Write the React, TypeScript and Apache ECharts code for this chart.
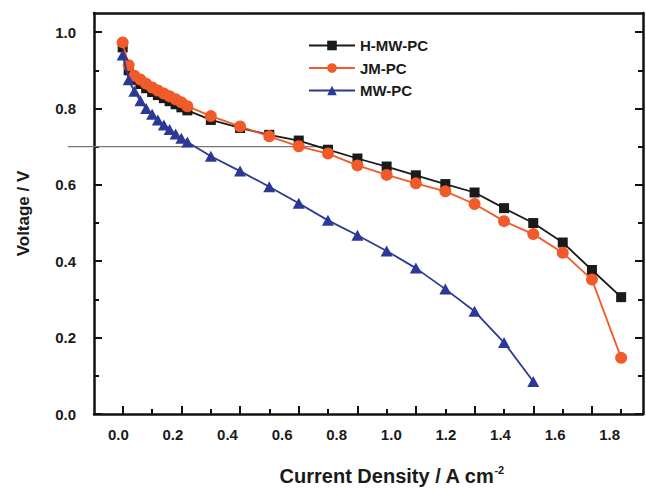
import React, { useEffect, useRef } from "react";
import * as echarts from "echarts";

// Current density (A cm^-2), read against the labelled axis
const xHMW = [0.016, 0.038, 0.059, 0.081, 0.102, 0.124, 0.145, 0.167, 0.188, 0.210, 0.231, 0.253, 0.339, 0.446, 0.553, 0.661, 0.768, 0.876, 0.983, 1.090, 1.198, 1.305, 1.413, 1.520, 1.628, 1.735, 1.842];
const yHMW = [0.960, 0.900, 0.875, 0.864, 0.853, 0.843, 0.835, 0.827, 0.819, 0.811, 0.803, 0.795, 0.770, 0.749, 0.731, 0.716, 0.692, 0.669, 0.648, 0.625, 0.602, 0.580, 0.539, 0.500, 0.449, 0.377, 0.306];

const xJM = [0.016, 0.038, 0.059, 0.081, 0.102, 0.124, 0.145, 0.167, 0.188, 0.210, 0.231, 0.253, 0.339, 0.446, 0.553, 0.661, 0.768, 0.876, 0.983, 1.090, 1.198, 1.305, 1.413, 1.520, 1.628, 1.735, 1.842];
const yJM = [0.973, 0.913, 0.886, 0.876, 0.865, 0.855, 0.847, 0.839, 0.832, 0.824, 0.816, 0.806, 0.780, 0.753, 0.727, 0.701, 0.682, 0.651, 0.626, 0.604, 0.583, 0.550, 0.505, 0.471, 0.422, 0.352, 0.147];

const xMW = [0.016, 0.038, 0.059, 0.081, 0.102, 0.124, 0.145, 0.167, 0.188, 0.210, 0.231, 0.253, 0.339, 0.446, 0.553, 0.661, 0.768, 0.876, 0.983, 1.090, 1.198, 1.305, 1.413, 1.520];
const yMW = [0.940, 0.875, 0.845, 0.820, 0.800, 0.785, 0.770, 0.757, 0.745, 0.733, 0.722, 0.712, 0.675, 0.636, 0.595, 0.552, 0.507, 0.468, 0.427, 0.382, 0.327, 0.269, 0.187, 0.085];

const seriesNames = ["H-MW-PC", "JM-PC", "MW-PC"];

const xMin = -0.089;
const xMax = 1.922;
const yMin = 0;
const yMax = 1.05;

const xLabels = [0, 0.2, 0.4, 0.6, 0.8, 1.0, 1.2, 1.4, 1.6, 1.8];
const xMajorTicks = [0.016, 0.231, 0.446, 0.661, 0.876, 1.090, 1.305, 1.520, 1.735];
const xMinorTicks = [0.124, 0.339, 0.553, 0.768, 0.983, 1.198, 1.413, 1.628, 1.842];
const yLabels = [0, 0.2, 0.4, 0.6, 0.8, 1.0];
const yMajorTicks = [0, 0.2, 0.4, 0.6, 0.8, 1.0];
const yMinorTicks = [0.1, 0.3, 0.5, 0.7, 0.9];

// horizontal 0.7 V reference line
const refVoltage = 0.7;
const refLineX = [-0.185, 0.77];

const FONT = "'Liberation Sans', Arial, Helvetica, sans-serif";
const AXIS_COLOR = "#111";
const TEXT_COLOR = "#1a1a1a";

export default function App() {
  const ref = useRef<HTMLDivElement>(null);

  useEffect(() => {
    if (!ref.current) return;
    const chart = echarts.init(ref.current, null, { renderer: "svg" });

    const pairs = (xs: number[], ys: number[]) => xs.map((x, i) => [x, ys[i]]);

    const labelStyle = {
      fontFamily: FONT,
      fontSize: 15,
      fontWeight: "bold",
      color: TEXT_COLOR,
    };

    const option: any = {
      animation: false,
      grid: { left: 94, right: 3, top: 13, bottom: 72 },
      legend: {
        orient: "vertical",
        left: 303,
        top: 33,
        itemWidth: 46,
        itemHeight: 12,
        itemGap: 7.5,
        textStyle: { fontFamily: FONT, fontSize: 15, fontWeight: "bold", color: TEXT_COLOR },
        data: seriesNames,
      },
      xAxis: [
        {
          type: "value",
          min: xMin,
          max: xMax,
          position: "bottom",
          splitLine: { show: false },
          axisLine: { show: true, onZero: false, lineStyle: { color: AXIS_COLOR, width: 2.5 } },
          axisTick: { show: true, inside: true, length: 8, customValues: xMajorTicks, lineStyle: { color: AXIS_COLOR, width: 2 } },
          axisLabel: { ...labelStyle, show: true, customValues: xLabels, formatter: (v: number) => v.toFixed(1), margin: 13 },
          name: "Current Density / A cm{sup|-2}",
          nameLocation: "middle",
          nameGap: 50,
          nameTextStyle: {
            fontFamily: FONT,
            fontSize: 20,
            fontWeight: "bold",
            color: TEXT_COLOR,
            padding: [0, 0, 0, 46],
            rich: {
              sup: { fontFamily: FONT, fontSize: 11, fontWeight: "bold", color: TEXT_COLOR, padding: [0, 0, 13, 0] },
            },
          },
        },
        {
          type: "value",
          min: xMin,
          max: xMax,
          position: "bottom",
          splitLine: { show: false },
          axisLine: { show: false, onZero: false },
          axisTick: { show: true, inside: true, length: 5, customValues: xMinorTicks, lineStyle: { color: AXIS_COLOR, width: 2 } },
          axisLabel: { show: false },
        },
        {
          type: "value",
          min: xMin,
          max: xMax,
          position: "top",
          splitLine: { show: false },
          axisLine: { show: true, onZero: false, lineStyle: { color: AXIS_COLOR, width: 2.5 } },
          axisTick: { show: false },
          axisLabel: { show: false },
        },
      ],
      yAxis: [
        {
          type: "value",
          position: "left",
          min: yMin,
          max: yMax,
          splitLine: { show: false },
          axisLine: { show: true, onZero: false, lineStyle: { color: AXIS_COLOR, width: 2.5 } },
          axisTick: { show: true, inside: true, length: 8, customValues: yMajorTicks, lineStyle: { color: AXIS_COLOR, width: 2 } },
          axisLabel: { ...labelStyle, customValues: yLabels, formatter: (v: number) => v.toFixed(1), margin: 18 },
          name: "Voltage / V",
          nameLocation: "middle",
          nameGap: 62,
          nameRotate: 90,
          nameTextStyle: {
            fontFamily: FONT,
            fontSize: 17,
            fontWeight: "bold",
            color: TEXT_COLOR,
            padding: [0, 0, 0, 0],
          },
        },
        {
          type: "value",
          position: "left",
          min: yMin,
          max: yMax,
          splitLine: { show: false },
          axisLine: { show: false, onZero: false },
          axisTick: { show: true, inside: true, length: 5, customValues: yMinorTicks, lineStyle: { color: AXIS_COLOR, width: 2 } },
          axisLabel: { show: false },
        },
        {
          type: "value",
          position: "right",
          min: yMin,
          max: yMax,
          splitLine: { show: false },
          axisLine: { show: true, onZero: false, lineStyle: { color: AXIS_COLOR, width: 2.5 } },
          axisTick: { show: true, inside: true, length: 8, customValues: yMajorTicks, lineStyle: { color: AXIS_COLOR, width: 2 } },
          axisLabel: { show: false },
        },
        {
          type: "value",
          position: "right",
          min: yMin,
          max: yMax,
          splitLine: { show: false },
          axisLine: { show: false, onZero: false },
          axisTick: { show: true, inside: true, length: 5, customValues: yMinorTicks, lineStyle: { color: AXIS_COLOR, width: 2 } },
          axisLabel: { show: false },
        },
      ],
      series: [
        {
          name: seriesNames[0],
          type: "line",
          xAxisIndex: 0,
          yAxisIndex: 0,
          data: pairs(xHMW, yHMW),
          symbol: "rect",
          symbolSize: 10,
          itemStyle: { color: "#1a1a1a" },
          lineStyle: { color: "#1a1a1a", width: 1.8 },
          z: 2,
        },
        {
          name: seriesNames[1],
          type: "line",
          xAxisIndex: 0,
          yAxisIndex: 0,
          data: pairs(xJM, yJM),
          symbol: "circle",
          symbolSize: 12,
          itemStyle: { color: "#f15a29" },
          lineStyle: { color: "#f15a29", width: 1.8 },
          z: 3,
        },
        {
          name: seriesNames[2],
          type: "line",
          xAxisIndex: 0,
          yAxisIndex: 0,
          data: pairs(xMW, yMW),
          symbol: "triangle",
          symbolSize: [12, 11],
          itemStyle: { color: "#2b3895" },
          lineStyle: { color: "#2b3895", width: 1.8 },
          z: 4,
        },
      ],
    };

    chart.setOption(option);

    const p1 = chart.convertToPixel({ xAxisIndex: 0, yAxisIndex: 0 }, [refLineX[0], refVoltage]) as number[];
    const p2 = chart.convertToPixel({ xAxisIndex: 0, yAxisIndex: 0 }, [refLineX[1], refVoltage]) as number[];
    chart.setOption({
      graphic: [
        {
          id: "refline",
          type: "line",
          z: 1,
          shape: { x1: p1[0], y1: p1[1], x2: p2[0], y2: p2[1] },
          style: { stroke: "#777", lineWidth: 1.2 },
        },
      ],
    });

    return () => chart.dispose();
  }, []);

  return (
    <div
      ref={ref}
      style={{ position: "absolute", left: 0, top: 0, width: 646, height: 491, background: "#fff" }}
    />
  );
}
